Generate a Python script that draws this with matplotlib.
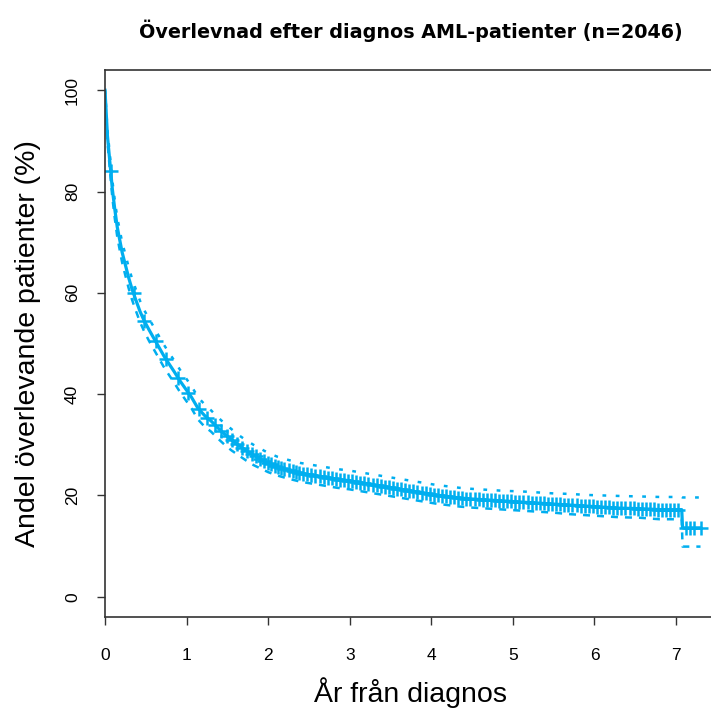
import numpy as np
import matplotlib

matplotlib.use("Agg")
import matplotlib.pyplot as plt

plt.rcParams["font.family"] = ["Liberation Sans", "DejaVu Sans"]

# Kaplan-Meier estimate (years, % surviving)
times = [0, 0.01, 0.02, 0.03, 0.05, 0.07, 0.09, 0.12, 0.15, 0.18, 0.21, 0.25,
         0.29, 0.33, 0.38, 0.43, 0.48, 0.54, 0.60, 0.66, 0.72, 0.78, 0.85, 0.92,
         0.99, 1.06, 1.14, 1.22, 1.30, 1.38, 1.46, 1.55, 1.64, 1.73, 1.82, 1.91,
         2.00, 2.12, 2.25, 2.40, 2.55, 2.70, 2.85, 3.00, 3.15, 3.30, 3.45, 3.60,
         3.75, 3.90, 4.05, 4.20, 4.35, 4.50, 4.70, 4.90, 5.10, 5.30, 5.50, 5.70,
         5.90, 6.10, 6.30, 6.55, 6.80, 7.07, 7.08, 7.30]
surv = [100, 97.0, 94.0, 91.0, 87.5, 84.0, 80.5, 76.5, 73.0, 70.5, 68.0, 65.5,
        63.0, 60.8, 58.5, 56.3, 54.5, 52.7, 51.0, 49.3, 47.6, 46.1, 44.4, 42.6,
        41.0, 39.4, 37.2, 35.8, 34.7, 33.4, 32.2, 31.0, 29.9, 28.9, 28.0, 27.2,
        26.4, 25.6, 25.0, 24.4, 24.0, 23.6, 23.2, 22.9, 22.5, 22.1, 21.7, 21.3,
        20.9, 20.5, 20.1, 19.8, 19.5, 19.3, 19.1, 18.9, 18.7, 18.5, 18.3, 18.1,
        17.9, 17.7, 17.5, 17.4, 17.2, 17.2, 13.6, 13.6]
upper = [100, 97.7, 95.0, 92.2, 88.9, 85.6, 82.2, 78.3, 74.9, 72.5, 70.0, 67.6,
         65.1, 62.9, 60.6, 58.4, 56.6, 54.9, 53.2, 51.5, 49.8, 48.3, 46.6, 44.8,
         43.2, 41.6, 39.4, 38.0, 36.8, 35.5, 34.3, 33.1, 31.9, 30.9, 30.0, 29.2,
         28.4, 27.6, 27.0, 26.4, 26.0, 25.6, 25.2, 24.9, 24.5, 24.1, 23.7, 23.3,
         22.9, 22.5, 22.1, 21.8, 21.5, 21.3, 21.1, 20.9, 20.8, 20.6, 20.4, 20.3,
         20.1, 20.0, 19.9, 19.8, 19.7, 19.7, 19.6, 19.6]
lower = [100, 96.3, 93.0, 89.8, 86.1, 82.4, 78.8, 74.7, 71.1, 68.5, 66.0, 63.4,
         60.9, 58.7, 56.4, 54.2, 52.4, 50.5, 48.8, 47.1, 45.4, 43.9, 42.2, 40.4,
         38.8, 37.2, 35.0, 33.6, 32.6, 31.3, 30.1, 28.9, 27.9, 26.9, 26.0, 25.3,
         24.6, 23.9, 23.3, 22.7, 22.3, 21.9, 21.5, 21.2, 20.8, 20.4, 20.0, 19.6,
         19.2, 18.8, 18.4, 18.1, 17.8, 17.6, 17.4, 17.2, 17.0, 16.8, 16.6, 16.3,
         16.1, 15.9, 15.7, 15.6, 15.3, 15.3, 9.9, 9.9]

# censored observations (years)
censor_times = [0.07, 0.35, 0.48, 0.62, 0.75, 0.90, 1.02, 1.15, 1.25, 1.35,
                1.42, 1.50, 1.56, 1.62, 1.68, 1.74, 1.80, 1.85, 1.90, 1.95,
                2.00, 2.04, 2.08, 2.12, 2.16, 2.20, 2.25, 2.30, 2.34, 2.38,
                2.43, 2.48, 2.53, 2.58, 2.63, 2.68, 2.73, 2.78, 2.83, 2.88,
                2.93, 2.98, 3.03, 3.08, 3.13, 3.18, 3.23, 3.28, 3.33, 3.38,
                3.43, 3.48, 3.53, 3.58, 3.63, 3.68, 3.73, 3.78, 3.83, 3.88,
                3.93, 3.98, 4.03, 4.08, 4.13, 4.18, 4.23, 4.28, 4.33, 4.38,
                4.43, 4.48, 4.53, 4.58, 4.63, 4.68, 4.73, 4.78, 4.83, 4.88,
                4.93, 4.98, 5.03, 5.08, 5.13, 5.18, 5.23, 5.28, 5.33, 5.38,
                5.43, 5.48, 5.53, 5.58, 5.63, 5.68, 5.73, 5.78, 5.83, 5.88,
                5.93, 5.98, 6.03, 6.08, 6.13, 6.18, 6.23, 6.28, 6.33, 6.38,
                6.43, 6.48, 6.53, 6.58, 6.63, 6.68, 6.73, 6.78, 6.83, 6.88,
                6.93, 6.98, 7.03, 7.12, 7.17, 7.22, 7.30]

title = "Överlevnad efter diagnos AML-patienter (n=2046)"
xlabel = "År från diagnos"
ylabel = "Andel överlevande patienter (%)"
xticks = [0, 1, 2, 3, 4, 5, 6, 7]
yticks = [0, 20, 40, 60, 80, 100]

color = "#00AEEF"

fig = plt.figure(figsize=(7.11, 7.11), dpi=100)
ax = fig.add_axes([105 / 711, 94 / 711, 611 / 711, 547 / 711])

ax.plot(times, upper, color=color, lw=1.8, linestyle=(0, (1.5, 3.8)))
ax.plot(times, lower, color=color, lw=1.8, linestyle=(0, (2.8, 2.8)))
ax.plot(times, surv, color=color, lw=2.3)

# censor marks sit on the survival curve
ax.plot(censor_times, np.interp(censor_times, times, surv), linestyle="none",
        marker="+", markersize=10, markeredgewidth=1.8, color=color)

ax.set_xlim(0, 7.49)
ax.set_ylim(-4, 104)
ax.set_xticks(xticks)
ax.set_yticks(yticks)
ax.tick_params(axis="both", direction="out", length=6, width=1,
               labelsize=12.5, color="#333333")
ax.tick_params(axis="x", pad=16)
ax.tick_params(axis="y", pad=12)
for lab in ax.get_yticklabels():
    lab.set_rotation(90)
    lab.set_va("center")
for sp in ax.spines.values():
    sp.set_linewidth(1.2)
    sp.set_color("#333333")

ax.set_title(title, fontsize=13.8, fontweight="bold", family="DejaVu Sans",
             pad=23)
ax.set_xlabel(xlabel, fontsize=20.5)
ax.xaxis.set_label_coords(0.5, -0.11)
ax.set_ylabel(ylabel, fontsize=20.5)
ax.yaxis.set_label_coords(-0.105, 0.5)

fig.savefig("out.png", dpi=100)
